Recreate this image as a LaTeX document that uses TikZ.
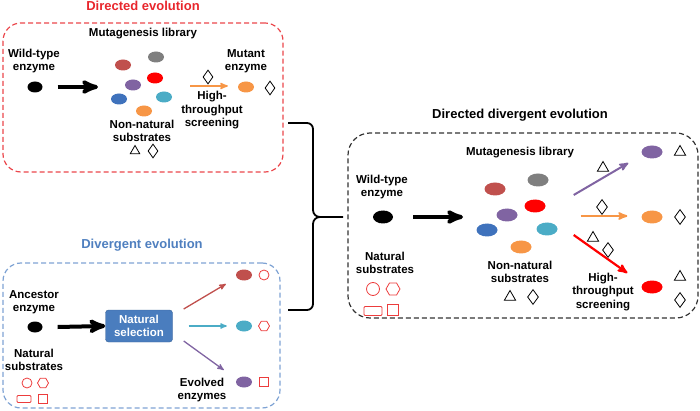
\documentclass[tikz,border=0pt]{standalone}
\usepackage{fontspec}
\setmainfont{Liberation Sans}
\usetikzlibrary{calc,positioning,arrows,shapes.geometric}

\definecolor{dirred}{HTML}{E8262C}
\definecolor{divblue}{HTML}{4F7FBF}
\definecolor{boxblue}{HTML}{7FA3D4}
\definecolor{selblue}{HTML}{4A7DBE}
\definecolor{subred}{HTML}{EC3C3C}
\definecolor{ebrown}{HTML}{C0504D}
\definecolor{egray}{HTML}{7F7F7F}
\definecolor{ered}{HTML}{FF0000}
\definecolor{epurple}{HTML}{8064A2}
\definecolor{eblue}{HTML}{3F72BC}
\definecolor{ecyan}{HTML}{4BACC6}
\definecolor{eorange}{HTML}{F79646}

\tikzset{
  txt/.style={font=\bfseries\fontsize{11.5}{13.5}\selectfont,align=center,inner sep=0pt},
  ttl/.style={font=\bfseries\fontsize{13}{15}\selectfont,inner sep=0pt},
  enz/.style={ellipse,fill=#1,minimum width=16pt,minimum height=11pt,inner sep=0pt},
  benz/.style={ellipse,fill=#1,minimum width=21pt,minimum height=13pt,inner sep=0pt},
  tri/.style={regular polygon,regular polygon sides=3,draw,thick,minimum size=13pt,inner sep=0pt},
  dia/.style={diamond,draw,thick,aspect=0.7,minimum width=10pt,minimum height=14pt,inner sep=0pt},
  subcirc/.style={circle,draw=subred,thick,minimum size=#1,inner sep=0pt},
  subhex/.style={regular polygon,regular polygon sides=6,draw=subred,thick,minimum size=#1,inner sep=0pt},
  subrect/.style={rectangle,rounded corners=1pt,draw=subred,thick,minimum width=#1,minimum height=0.5*#1,inner sep=0pt},
  subsq/.style={rectangle,draw=subred,thick,minimum size=#1,inner sep=0pt},
  groupbox/.style={draw=#1,line width=1.2pt,dash pattern=on 5pt off 3pt,rounded corners=18pt},
  fatarrow/.style={->,line width=4pt},
  thinarrow/.style={->,draw=#1,line width=1.6pt}
}

\begin{document}
\begin{tikzpicture}[x=1pt,y=-1pt,>=stealth']
    \useasboundingbox (0,0) rectangle (700,411);
    % directed evolution
    \node[groupbox=dirred!85,minimum width=280pt,minimum height=149pt] (DirBox) at (143,97.5) {};
    \node[ttl,text=dirred] (DirTitle) at (143,6) {Directed evolution};
    \node[txt] (DirLib) at (143,34) {Mutagenesis library};
    \node[txt] (DirWild) at (34,61) {Wild-type\\enzyme};
    \node[enz=black,minimum width=15pt] (dir_wt) at (35,87) {};
    \node[enz=ebrown] (dir_e1) at (123,65) {};
    \node[enz=egray] (dir_e2) at (156,57) {};
    \node[enz=ered] (dir_e3) at (155,78) {};
    \node[enz=epurple] (dir_e4) at (133,85) {};
    \node[enz=eblue] (dir_e5) at (119,99) {};
    \node[enz=ecyan] (dir_e6) at (164,97) {};
    \node[enz=eorange] (dir_e7) at (144,111) {};
    \node[txt] (DirNon) at (142,131) {Non-natural\\substrates};
    \node[tri,minimum size=11pt] (dir_tri) at (135,151) {};
    \node[dia] (dir_dia) at (153,151) {};
    \node[txt] (DirScreen) at (212,110.5) {High-\\throughput\\screening};
    \node[txt] (DirMutant) at (246,61) {Mutant\\enzyme};
    \node[enz=eorange] (dir_mut) at (246,87) {};
    \node[dia] (dir_mut_dia) at (270,88) {};
    \coordinate (dir_lib_in) at (98,87);
    \coordinate (dir_scr_in) at (190,86);
    \node[dia] (dir_scr_dia) at (208,77) {};
    %
    \draw[fatarrow] (dir_wt.east) ++(15,0) -- (dir_lib_in);
    \draw[thinarrow=eorange] (dir_scr_in) -- ($(dir_mut.west)+(-10,-1)$);

    % divergent evolution
    \node[groupbox=boxblue,minimum width=277pt,minimum height=145pt] (DivBox) at (141.5,335.5) {};
    \node[ttl,text=divblue] (DivTitle) at (142,245) {Divergent evolution};
    \node[txt] (DivAnc) at (34,302) {Ancestor\\enzyme};
    \node[enz=black,minimum width=15pt] (div_anc) at (35,327) {};
    \node[txt] (DivNat) at (34,360) {Natural\\substrates};
    \node[subcirc=10pt] (div_s1) at (27,383) {};
    \node[subhex=11pt] (div_s2) at (43,383) {};
    \node[subrect=14pt] (div_s3) at (24,399) {};
    \node[subsq=8.5pt] (div_s4) at (43,399) {};
    \node[rectangle,rounded corners=3pt,fill=selblue,draw=selblue!80!black,
          minimum width=67pt,minimum height=32pt,txt,text=white] (NatSel) at (139,326) {Natural\\selection};
    \node[enz=ebrown] (div_e1) at (244,275) {};
    \node[enz=ecyan] (div_e2) at (244,326) {};
    \node[enz=epurple] (div_e3) at (244,382) {};
    \node[subcirc=10pt] (div_o1) at (264,275) {};
    \node[subhex=11pt] (div_o2) at (264,326) {};
    \node[subsq=9pt] (div_o3) at (264,382) {};
    \node[txt] (DivEvolved) at (202,390) {Evolved\\enzymes};
    %
    \draw[fatarrow] (div_anc.east) ++(15,0) -- (NatSel.west);
    \draw[thinarrow=ebrown,line width=1.3pt] ($(NatSel.east)+(11,-17)$) -- ($(div_e1.west)+(-10,9)$);
    \draw[thinarrow=ecyan,line width=1.3pt] ($(NatSel.east)+(16,0)$) -- ($(div_e2.west)+(-9,0)$);
    \draw[thinarrow=epurple,line width=1.3pt] ($(NatSel.east)+(11,15)$) -- ($(div_e3.west)+(-12,-12)$);

    % bracket joining both boxes
    \coordinate (brace_top) at (288,123);
    \coordinate (brace_bot) at (288,310);
    \coordinate (brace_tip) at (343,217);
    \draw[line width=1.8pt] (brace_top) -- (307,123) to[out=0,in=90] (313,129) -- (313,210)
        to[out=-90,in=180] (320,217) -- (brace_tip);
    \draw[line width=1.8pt] (320,217) to[out=180,in=90] (313,224) -- (313,304)
        to[out=-90,in=0] (307,310) -- (brace_bot);

    % directed divergent evolution
    \node[groupbox=black!80,minimum width=350pt,minimum height=185pt,rounded corners=22pt] (DDEBox) at (523,225.5) {};
    \node[ttl] (DDETitle) at (520,115) {Directed divergent evolution};
    \node[txt] (DDELib) at (520,153) {Mutagenesis library};
    \node[txt] (DDEWild) at (382,187) {Wild-type\\enzyme};
    \node[benz=black,minimum width=20pt] (dde_wt) at (383,217) {};
    \node[txt] (DDENat) at (385,263) {Natural\\substrates};
    \node[subcirc=13pt] (dde_s1) at (373,289) {};
    \node[subhex=14pt] (dde_s2) at (393,289) {};
    \node[subrect=18pt] (dde_s3) at (373,311) {};
    \node[subsq=11pt] (dde_s4) at (393,310) {};
    \node[benz=ebrown] (dde_e1) at (495,189) {};
    \node[benz=egray] (dde_e2) at (538,180) {};
    \node[benz=ered] (dde_e3) at (535,206) {};
    \node[benz=epurple] (dde_e4) at (507,215) {};
    \node[benz=eblue] (dde_e5) at (487,230) {};
    \node[benz=ecyan] (dde_e6) at (547,229) {};
    \node[benz=eorange] (dde_e7) at (521,247) {};
    \node[txt] (DDENon) at (520,272) {Non-natural\\substrates};
    \node[tri] (dde_tri) at (510,297) {};
    \node[dia,minimum width=11pt,minimum height=15pt] (dde_dia) at (533,297) {};
    \node[txt] (DDEScreen) at (603,292) {High-\\throughput\\screening};
    \node[benz=epurple] (dde_o1) at (652,152) {};
    \node[benz=eorange] (dde_o2) at (652,217) {};
    \node[benz=ered] (dde_o3) at (652,287) {};
    \node[tri] (dde_o1_tri) at (680,152) {};
    \node[dia,minimum width=11pt,minimum height=15pt] (dde_o2_dia) at (680,217) {};
    \node[tri] (dde_o3_tri) at (680,277) {};
    \node[dia,minimum width=11pt,minimum height=15pt] (dde_o3_dia) at (680,300) {};
    \node[tri] (dde_a1_tri) at (603,168) {};
    \node[dia,minimum width=11pt,minimum height=15pt] (dde_a2_dia) at (602,207) {};
    \node[tri] (dde_a3_tri) at (593,238) {};
    \node[dia,minimum width=11pt,minimum height=15pt] (dde_a3_dia) at (608,250) {};
    \coordinate (dde_lib_in) at (463,217);
    %
    \draw[fatarrow] (dde_wt.east) ++(20,0) -- (dde_lib_in);
    \draw[thinarrow=epurple,line width=2pt] ($(dde_e6.east)+(16,-34)$) -- ($(dde_o1.west)+(-13,11)$);
    \draw[thinarrow=eorange,line width=2pt] ($(dde_e6.east)+(23,-13)$) -- ($(dde_o2.west)+(-14,-1)$);
    \draw[thinarrow=ered,line width=2.2pt] ($(dde_e6.east)+(16,6)$) -- ($(dde_o3.west)+(-14,-14)$);
\end{tikzpicture}
\end{document}
